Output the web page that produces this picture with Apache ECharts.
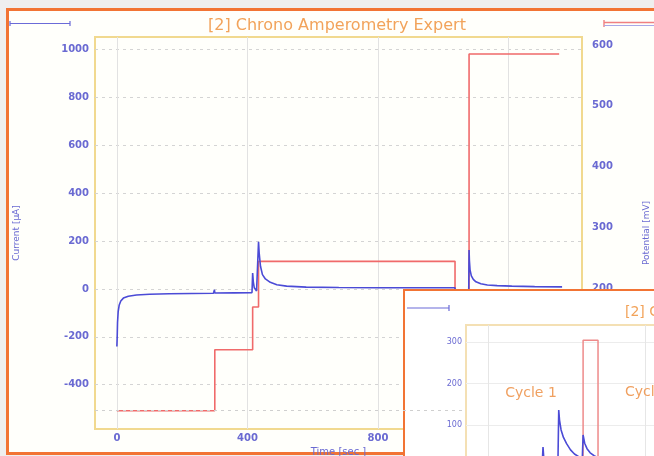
<!DOCTYPE html>
<html>
<head>
<meta charset="utf-8">
<title>[2] Chrono Amperometry Expert</title>
<script src="https://cdn.jsdelivr.net/npm/echarts@6/dist/echarts.min.js"></script>
<style>
  html, body { margin: 0; padding: 0; background: #efefef; }
  #chart { width: 654px; height: 456px; }
</style>
</head>
<body>
<div id="chart"></div>
<script>
// Main run: current (µA, left axis) and applied potential (mV, right axis) vs time (s)
var currentTime = [0, 1, 2, 4, 7, 12, 20, 35, 60, 100, 160, 230, 296, 299, 300, 302, 360, 414, 416, 418,
  421, 428, 433, 434, 436, 440, 446, 455, 470, 490, 520, 580, 680, 800, 950, 1036, 1038, 1045, 1060, 1078,
  1079, 1080, 1082, 1086, 1092, 1100, 1115, 1135, 1165, 1210, 1280, 1364];
var currentValues = [-240, -200, -140, -95, -68, -50, -38, -30, -25, -22, -20, -19, -18, -3, -17, -17, -16, -15, 67, 30,
  5, -8, -5, 197, 150, 95, 60, 42, 28, 18, 12, 8, 6, 5, 5, 5, -90, -40, -15, -5,
  163, 120, 80, 55, 40, 30, 22, 17, 14, 12, 10, 9];

var potentialTime = [0, 300, 300, 416, 416, 434, 434, 1036, 1036, 1079, 1079, 1355];
var potentialValues = [0, 0, 100, 100, 170, 170, 245, 245, 0, 0, 585, 585];

var timeTicks = [0, 400, 800, 1200];
var currentTicks = [-400, -200, 0, 200, 400, 600, 800, 1000];
var potentialTicks = [0, 100, 200, 300, 400, 500, 600];

// Cycle view (inset)
var cycleTime = [0, 30, 60, 69, 70, 71, 75, 82, 89, 90, 91, 93, 96, 100, 105, 110, 116, 120, 121, 123,
  126, 130, 135, 140, 150, 170, 200, 260, 330, 397];
var cycleCurrent = [4, 5, 6, 7, 47, 20, 12, 10, 12, 136, 112, 88, 70, 55, 40, 30, 23, 20, 76, 56,
  43, 33, 26, 21, 15, 12, 10, 8, 7, 6];
var cyclePotTime = [0, 121, 121, 140, 140, 397];
var cyclePotValues = [0, 0, 580, 580, 0, 0];
var cycleTimeTicks = [0, 200];
var cycleCurrentTicks = [0, 100, 200, 300];
var cycleLabels = ['Cycle 1', 'Cycle 2'];

function zip(xs, ys) {
  return xs.map(function (x, i) { return [x, ys[i]]; });
}
function plain(v) { return String(v); }

var FONT = 'DejaVu Sans';
var BLUE = '#4b4bd6';
var RED = '#f06a6a';
var LABEL = '#6a6ad2';
var TITLE = '#f2a35a';
var FRAME = '#f27434';
var BOX = '#f1d98f';

var chart = echarts.init(document.getElementById('chart'), null, { renderer: 'canvas' });

chart.setOption({
  animation: false,
  backgroundColor: '#efefef',
  title: [
    {
      text: '[2] Chrono Amperometry Expert',
      left: 203, top: 13, z: 4,
      textStyle: { fontFamily: FONT, fontSize: 16, fontWeight: 'normal', color: TITLE }
    },
    {
      text: '[2] Chrono Amperometry Expert',
      left: 620, top: 300, z: 9,
      textStyle: { fontFamily: FONT, fontSize: 14, fontWeight: 'normal', color: TITLE }
    }
  ],
  grid: [
    { left: 95, top: 37, right: 72, bottom: 27, show: true, z: 1, outerBoundsMode: 'none',
      borderColor: BOX, borderWidth: 2, backgroundColor: 'transparent' },
    { left: 466, top: 325, right: -146, bottom: -10.5, show: true, z: 6, outerBoundsMode: 'none',
      borderColor: '#f4e0b4', borderWidth: 2, backgroundColor: '#ffffff' }
  ],
  xAxis: [
    {
      type: 'value', gridIndex: 0, min: -67, max: 1425, z: 1,
      name: 'Time [sec ]', nameLocation: 'middle', nameGap: 16,
      nameTextStyle: { fontFamily: FONT, fontSize: 10, color: LABEL },
      axisLine: { show: false }, axisTick: { show: false, customValues: timeTicks },
      axisLabel: { customValues: timeTicks, formatter: plain, margin: 4, fontFamily: FONT, fontSize: 10, fontWeight: 'bold', color: LABEL },
      splitLine: { show: true, lineStyle: { color: '#e2e2e2', width: 1 } }
    },
    {
      type: 'value', gridIndex: 1, min: -28, max: 397, z: 6,
      axisLine: { show: false }, axisTick: { show: false, customValues: cycleTimeTicks },
      axisLabel: { show: false, customValues: cycleTimeTicks },
      splitLine: { show: true, lineStyle: { color: '#e6e6e6', width: 1 } }
    }
  ],
  yAxis: [
    {
      type: 'value', gridIndex: 0, min: -585, max: 1053, position: 'left', z: 1,
      name: 'Current [µA]', nameLocation: 'middle', nameGap: 74, nameRotate: 90,
      nameTextStyle: { fontFamily: FONT, fontSize: 9, color: LABEL },
      axisLine: { show: false }, axisTick: { show: false, customValues: currentTicks },
      axisLabel: { customValues: currentTicks, formatter: plain, margin: 6, fontFamily: FONT, fontSize: 10, fontWeight: 'bold', color: LABEL },
      splitLine: { show: true, lineStyle: { color: '#d4d4d4', width: 1, type: [3, 4] } }
    },
    {
      type: 'value', gridIndex: 0, min: -30, max: 613, position: 'right', z: 1,
      name: 'Potential [mV]', nameLocation: 'middle', nameGap: 60, nameRotate: 90,
      nameTextStyle: { fontFamily: FONT, fontSize: 9, color: LABEL },
      axisLine: { show: false }, axisTick: { show: false, customValues: potentialTicks },
      axisLabel: { customValues: potentialTicks, formatter: plain, margin: 10, fontFamily: FONT, fontSize: 10, fontWeight: 'bold', color: LABEL },
      splitLine: { show: false }
    },
    {
      type: 'value', gridIndex: 1, min: 0, max: 341, position: 'left', z: 6,
      axisLine: { show: false }, axisTick: { show: false, customValues: cycleCurrentTicks },
      axisLabel: { customValues: [100, 200, 300], formatter: plain, margin: 4, fontFamily: FONT, fontSize: 8, color: LABEL },
      splitLine: { show: true, lineStyle: { color: '#ececec', width: 1 } }
    },
    {
      type: 'value', gridIndex: 1, min: 250, max: 620, position: 'right', show: false,
      splitLine: { show: false }
    }
  ],
  series: [
    {
      name: 'Potential', type: 'line', xAxisIndex: 0, yAxisIndex: 1, z: 3,
      data: zip(potentialTime, potentialValues),
      symbol: 'none', lineStyle: { color: RED, width: 1.6 },
      markLine: {
        silent: true, symbol: 'none', label: { show: false },
        lineStyle: { color: '#cfcfcf', type: [3, 4], width: 1 },
        data: [{ yAxis: 0 }]
      }
    },
    {
      name: 'Current', type: 'line', xAxisIndex: 0, yAxisIndex: 0, z: 4,
      data: zip(currentTime, currentValues),
      symbol: 'none', lineStyle: { color: BLUE, width: 1.6 }
    },
    {
      name: 'Cycle potential', type: 'line', xAxisIndex: 1, yAxisIndex: 3, z: 8,
      data: zip(cyclePotTime, cyclePotValues),
      symbol: 'none', lineStyle: { color: '#ee8a8a', width: 1.5 }
    },
    {
      name: 'Cycle current', type: 'line', xAxisIndex: 1, yAxisIndex: 2, z: 8,
      data: zip(cycleTime, cycleCurrent),
      symbol: 'none', lineStyle: { color: BLUE, width: 1.6 }
    }
  ],
  graphic: [
    // main panel
    { type: 'rect', z: 0, silent: true,
      shape: { x: 7.5, y: 9.5, width: 700, height: 444 },
      style: { fill: '#fffffb', stroke: FRAME, lineWidth: 3 } },
    // series swatches of the main panel
    { type: 'polyline', z: 2, silent: true,
      shape: { points: [[10, 21], [10, 26], [10, 23.5], [70, 23.5], [70, 21], [70, 26]] },
      style: { stroke: '#6b6bd8', lineWidth: 1.2, fill: null } },
    { type: 'polyline', z: 2, silent: true,
      shape: { points: [[604, 20], [604, 27], [604, 22.5], [660, 22.5]] },
      style: { stroke: '#f08080', lineWidth: 1.4, fill: null } },
    { type: 'line', z: 2, silent: true,
      shape: { x1: 604, y1: 25.5, x2: 660, y2: 25.5 },
      style: { stroke: '#a8a8e8', lineWidth: 1 } },
    // cycle view panel
    { type: 'rect', z: 5, silent: true,
      shape: { x: 404, y: 290, width: 300, height: 200 },
      style: { fill: '#ffffff', stroke: FRAME, lineWidth: 2 } },
    { type: 'polyline', z: 9, silent: true,
      shape: { points: [[407, 308], [449, 308], [449, 305], [449, 311]] },
      style: { stroke: '#6b6bd8', lineWidth: 1.2, fill: null } },
    { type: 'text', z: 9, silent: true, x: 531, y: 393,
      style: { text: cycleLabels[0], fontFamily: FONT, fontSize: 14, fill: '#f0a060', align: 'center', verticalAlign: 'middle' } },
    { type: 'text', z: 9, silent: true, x: 625, y: 392,
      style: { text: cycleLabels[1], fontFamily: FONT, fontSize: 14, fill: '#f0a060', align: 'left', verticalAlign: 'middle' } }
  ]
});
</script>
</body>
</html>
